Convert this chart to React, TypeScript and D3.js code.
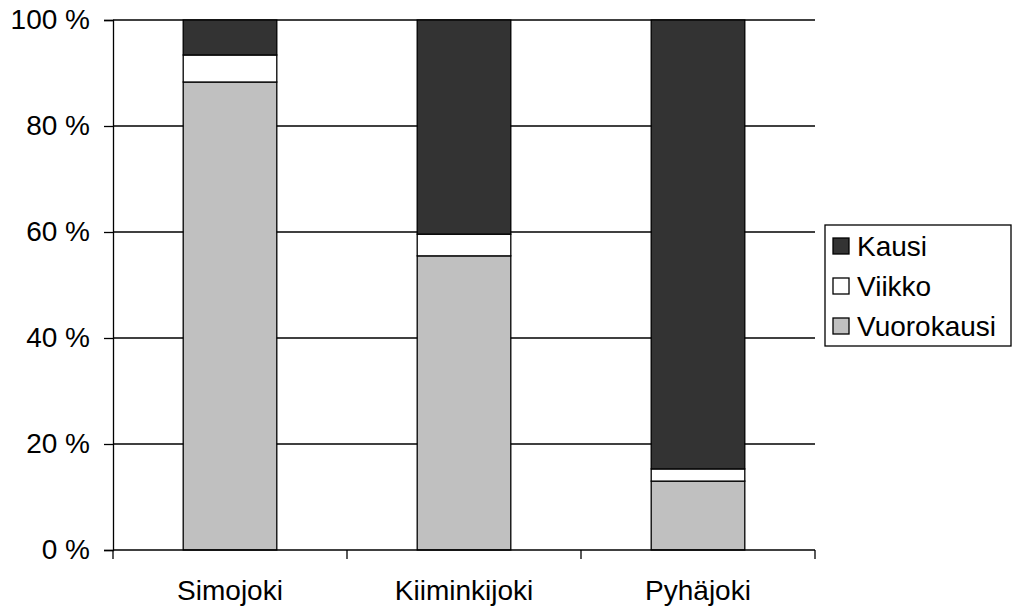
import { useEffect, useRef } from 'react'
import * as d3 from 'd3'

const rivers = ['Simojoki', 'Kiiminkijoki', 'Pyhäjoki']
const seriesNames = ['Vuorokausi', 'Viikko', 'Kausi']
const vuorokausi = [88.3, 55.5, 13.0]
const viikko = [5.1, 4.1, 2.3]
const kausi = [6.6, 40.4, 84.7]
const yTicks = [0, 20, 40, 60, 80, 100]
const colors = ['#c0c0c0', '#ffffff', '#333333']

const W = 1018
const H = 608
const margin = { top: 20, right: 203, bottom: 58, left: 113 }

const App = () => {
  const svgRef = useRef<SVGSVGElement | null>(null)

  useEffect(() => {
    if (!svgRef.current) return
    const svg = d3.select(svgRef.current)
    svg.selectAll('*').remove()
    const width = W - margin.left - margin.right
    const height = H - margin.top - margin.bottom
    const font = 'Liberation Sans, Arial, sans-serif'
    const fs = 28

    const g = svg.append('g').attr('transform', `translate(${margin.left},${margin.top})`)

    const x = d3.scaleBand().domain(rivers).range([0, width]).paddingInner(0.6).paddingOuter(0.3)
    const y = d3.scaleLinear().domain([0, 100]).range([height, 0])

    // grid
    g.selectAll('line.grid')
      .data(yTicks.slice(1))
      .enter()
      .append('line')
      .attr('x1', 0).attr('x2', width)
      .attr('y1', d => y(d)).attr('y2', d => y(d))
      .attr('stroke', '#000').attr('stroke-width', 1.3)

    // stacks
    const rows = rivers.map((r, i) => ({ river: r, Vuorokausi: vuorokausi[i], Viikko: viikko[i], Kausi: kausi[i] }))
    const stack = d3.stack<any>().keys(seriesNames)(rows)
    stack.forEach((layer, li) => {
      g.selectAll(`rect.s${li}`)
        .data(layer)
        .enter()
        .append('rect')
        .attr('x', d => x(d.data.river)!)
        .attr('width', x.bandwidth())
        .attr('y', d => y(d[1]))
        .attr('height', d => y(d[0]) - y(d[1]))
        .attr('fill', colors[li])
        .attr('stroke', '#000').attr('stroke-width', 1.3)
    })

    // y axis
    const yAxis = g.append('g')
      .call(d3.axisLeft(y).tickValues(yTicks).tickSize(9).tickPadding(14).tickFormat(d => `${d} %`))
    yAxis.select('.domain').attr('stroke', '#000').attr('stroke-width', 1.3)
    yAxis.selectAll('line').attr('stroke-width', 1.3)
    yAxis.selectAll('text').style('font-size', `${fs}px`).style('font-family', font).attr('fill', '#000')

    // x axis
    const xAxis = g.append('g').attr('transform', `translate(0,${height})`)
    xAxis.append('line').attr('x1', 0).attr('x2', width).attr('stroke', '#000').attr('stroke-width', 1.3)
    const bounds = [0, width / 3, (2 * width) / 3, width]
    xAxis.selectAll('line.tick')
      .data(bounds)
      .enter()
      .append('line')
      .attr('x1', d => d).attr('x2', d => d)
      .attr('y1', 0).attr('y2', 9)
      .attr('stroke', '#000').attr('stroke-width', 1.3)
    xAxis.selectAll('text')
      .data(rivers)
      .enter()
      .append('text')
      .attr('x', d => x(d)! + x.bandwidth() / 2)
      .attr('y', 50)
      .attr('text-anchor', 'middle')
      .style('font-size', `${fs}px`).style('font-family', font)
      .text(d => d)

    // legend
    const legend = svg.append('g').attr('transform', 'translate(825,225)')
    legend.append('rect')
      .attr('x', 0).attr('y', 0).attr('width', 186).attr('height', 121)
      .attr('fill', '#fff').attr('stroke', '#000').attr('stroke-width', 1.3)
    const legendOrder = [2, 1, 0]
    legendOrder.forEach((si, i) => {
      const ly = 13 + i * 40
      legend.append('rect')
        .attr('x', 8).attr('y', ly).attr('width', 16).attr('height', 16)
        .attr('fill', colors[si]).attr('stroke', '#000').attr('stroke-width', 1.3)
      legend.append('text')
        .attr('x', 32).attr('y', ly + 18)
        .style('font-size', `${fs}px`).style('font-family', font)
        .text(seriesNames[si])
    })
  }, [])

  return (
    <svg ref={svgRef} width={W} height={H}
      style={{ position: 'absolute', left: 0, top: 0, background: '#fff' }} />
  )
}

export default App
